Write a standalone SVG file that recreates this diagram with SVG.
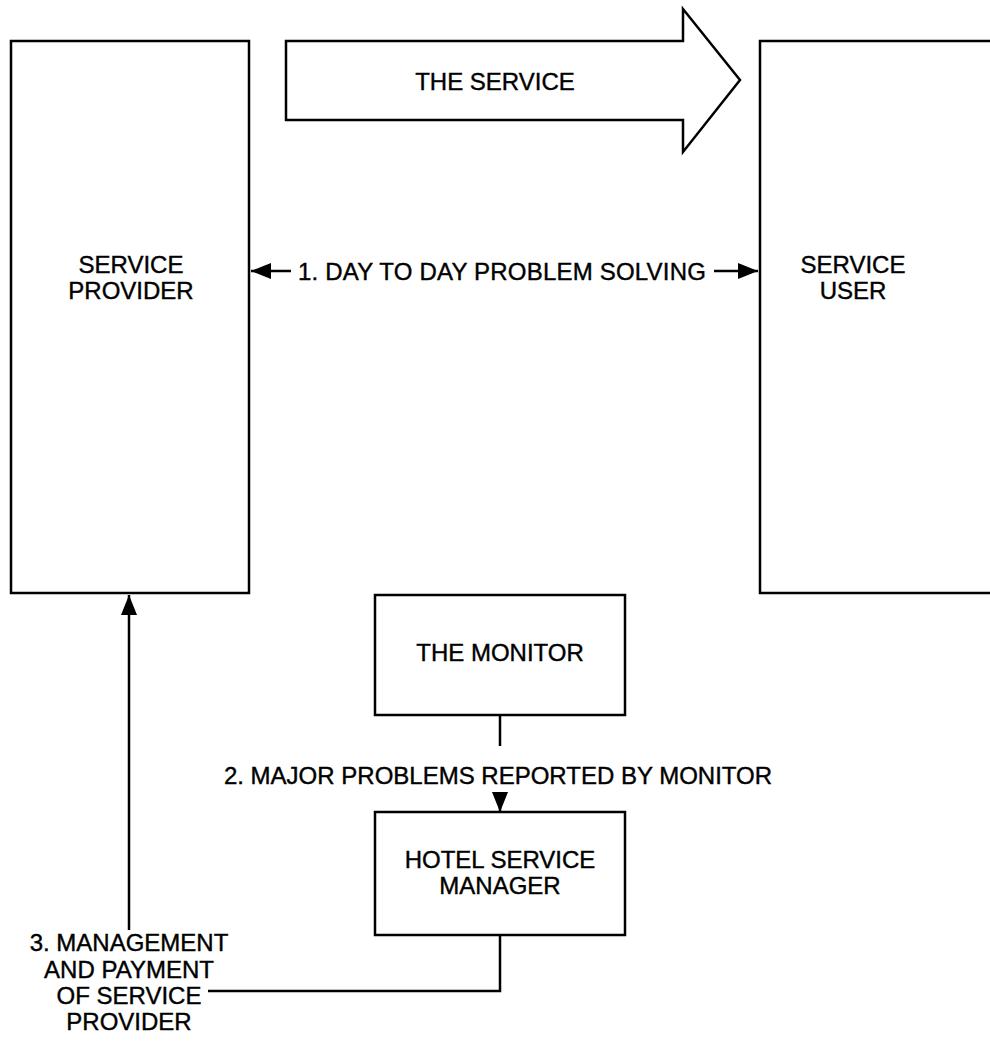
<svg xmlns="http://www.w3.org/2000/svg" width="990" height="1047" viewBox="0 0 990 1047">
  <style>
    .box { fill: #ffffff; stroke: #000000; stroke-width: 2.5; }
    .line { fill: none; stroke: #000000; stroke-width: 2.5; }
    text { font-family: "Liberation Sans", Arial, sans-serif; font-size: 24px; fill: #000000; stroke: #000000; stroke-width: 0.4; text-anchor: middle; }
  </style>
  <defs>
    <marker id="arr" viewBox="0 0 20 16" refX="20" refY="8" markerWidth="20" markerHeight="16" markerUnits="userSpaceOnUse" orient="auto">
      <path d="M0,0 L20,8 L0,16 Z" fill="#000000"/>
    </marker>
  </defs>
  <rect width="990" height="1047" fill="#ffffff"/>

  <g id="service-provider">
    <rect class="box" x="11" y="41" width="238" height="552"/>
    <text x="131" y="273">SERVICE</text>
    <text x="131" y="299">PROVIDER</text>
  </g>

  <g id="service-user">
    <rect class="box" x="760" y="41" width="260" height="552"/>
    <text x="853" y="273">SERVICE</text>
    <text x="853" y="299">USER</text>
  </g>

  <g id="the-service">
    <path class="box" d="M286,41 L683,41 L683,9 L740,80 L683,152 L683,120 L286,120 Z"/>
    <text x="495" y="90">THE SERVICE</text>
  </g>

  <g id="the-monitor">
    <rect class="box" x="375" y="595" width="250" height="120"/>
    <text x="500" y="661">THE MONITOR</text>
  </g>

  <g id="hotel-service-manager">
    <rect class="box" x="375" y="812" width="250" height="123"/>
    <text x="500" y="868">HOTEL SERVICE</text>
    <text x="500" y="894">MANAGER</text>
  </g>

  <g id="connectors">
    <!-- 1: day to day problem solving, both ways -->
    <line class="line" x1="291" y1="271" x2="251" y2="271" marker-end="url(#arr)"/>
    <line class="line" x1="714" y1="271" x2="758" y2="271" marker-end="url(#arr)"/>
    <text x="502" y="280" letter-spacing="0.2">1. DAY TO DAY PROBLEM SOLVING</text>

    <!-- 2: monitor reports to manager -->
    <line class="line" x1="500" y1="715" x2="500" y2="746"/>
    <text x="498" y="784">2. MAJOR PROBLEMS REPORTED BY MONITOR</text>
    <line class="line" x1="500" y1="794" x2="500" y2="812" marker-end="url(#arr)"/>

    <!-- 3: manager back to provider -->
    <polyline class="line" points="500,935 500,991 208,991"/>
    <line class="line" x1="129" y1="930" x2="129" y2="595" marker-end="url(#arr)"/>
    <text x="129" y="951">3. MANAGEMENT</text>
    <text x="129" y="978">AND PAYMENT</text>
    <text x="129" y="1004">OF SERVICE</text>
    <text x="129" y="1030">PROVIDER</text>
  </g>
</svg>
